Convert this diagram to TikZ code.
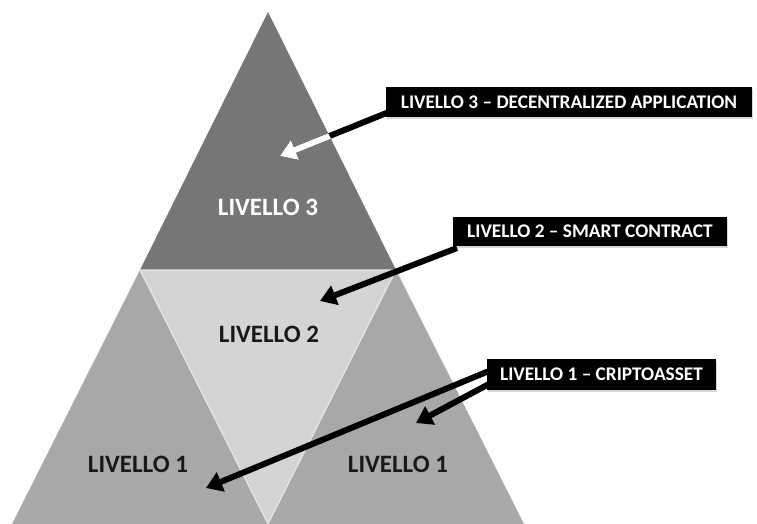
\documentclass[tikz,border=0pt]{standalone}
\usepackage{fontspec}
\setmainfont{Carlito}
\usetikzlibrary{arrows.meta,shadows}
\definecolor{lvthree}{HTML}{767676}
\definecolor{lvtwo}{HTML}{D4D4D4}
\definecolor{lvone}{HTML}{A8A8A8}
\definecolor{seam}{HTML}{E6E6E6}
\tikzset{
  lvlabel/.style={font=\bfseries\fontsize{25}{25}\selectfont, inner sep=0pt},
  callout/.style={fill=black, text=white, inner sep=0pt,
    font=\bfseries\fontsize{19.3}{19.3}\selectfont,
    drop shadow={shadow xshift=0.5pt, shadow yshift=-2pt, fill=black!30}},
  pointer/.style={line width=6pt, -{Triangle[length=16pt,width=20pt]}},
}
\begin{document}
\begin{tikzpicture}[x=1pt,y=-1pt]
\useasboundingbox (0,0) rectangle (757,524);
\fill[white] (0,0) rectangle (757,524);

% corner points of the pyramid
\coordinate (apex) at (268,12);
\coordinate (ml) at (140,270);
\coordinate (mr) at (396,270);
\coordinate (bl) at (12,524);
\coordinate (bm) at (268,524);
\coordinate (br) at (524,524);

% the four triangles
\fill[lvthree] (apex) -- (ml) -- (mr) -- cycle;
\fill[lvone] (ml) -- (bl) -- (bm) -- cycle;
\fill[lvone] (mr) -- (bm) -- (br) -- cycle;
\filldraw[fill=lvtwo, draw=seam, line width=1.2pt] (ml) -- (mr) -- (bm) -- cycle;

% level names
\node[lvlabel, text=white] (n3) at (268,207) {LIVELLO 3};
\node[lvlabel, text=black!90] (n2) at (269,334) {LIVELLO 2};
\node[lvlabel, text=black!90] (n1l) at (138,464) {LIVELLO 1};
\node[lvlabel, text=black!90] (n1r) at (398,464) {LIVELLO 1};

% callout boxes
\node[callout, minimum width=366pt, minimum height=30pt] (b3) at (569,102)
  {LIVELLO 3 -- DECENTRALIZED APPLICATION};
\node[callout, minimum width=274pt, minimum height=29pt] (b2) at (590,231.5)
  {LIVELLO 2 -- SMART CONTRACT};
\node[callout, minimum width=229pt, minimum height=31pt] (b1) at (601.5,374.5)
  {LIVELLO 1 -- CRIPTOASSET};

% arrow ends
\coordinate (s3) at (389,112);
\coordinate (t3) at (280,156);
\coordinate (s2) at (457,248);
\coordinate (t2) at (320,301);
\coordinate (s1a) at (489,371);
\coordinate (t1a) at (206,488);
\coordinate (s1b) at (489,384);
\coordinate (t1b) at (416,423);

% pointers: black outside, white where it crosses the top level
\draw[pointer] (s3) -- (t3);
\begin{scope}
  \clip (apex) -- (ml) -- (mr) -- cycle;
  \draw[pointer, white] (s3) -- (t3);
\end{scope}
\draw[pointer] (s2) -- (t2);
\draw[pointer] (s1a) -- (t1a);
\draw[pointer] (s1b) -- (t1b);
\end{tikzpicture}
\end{document}
